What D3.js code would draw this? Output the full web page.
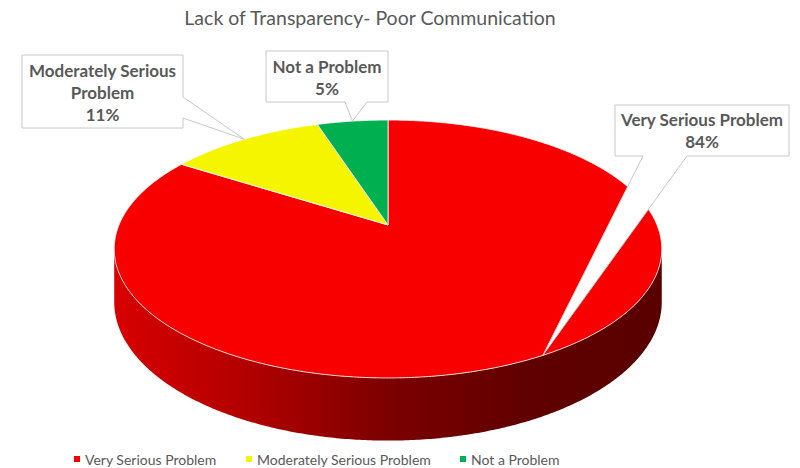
<!DOCTYPE html>
<html>
<head>
<meta charset="utf-8">
<script src="https://cdn.jsdelivr.net/npm/d3@7"></script>
<style>
  html, body { margin: 0; padding: 0; background: #ffffff; }
  svg { display: block; }
  text { font-family: Lato, "Open Sans", sans-serif; fill: #595959; }
</style>
</head>
<body>
<svg id="chart" width="800" height="468"></svg>
<script>
// ---- data ----
const title = "Lack of Transparency- Poor Communication";
const categories = ["Very Serious Problem", "Moderately Serious Problem", "Not a Problem"];
const values = [84, 11, 5];
const labelLines = [["Very Serious Problem"], ["Moderately Serious", "Problem"], ["Not a Problem"]];
const percentLabels = ["84%", "11%", "5%"];

// ---- styles / layout ----
const topColors = ["#f80000", "#f5f500", "#00b050"];
const color = d3.scaleOrdinal().domain(categories).range(topColors);

const W = 800, H = 468;
const cx = 388, cy = 225;        // projected centre of the pie top
const A = 269, B = 124.5;        // projected radii
const persp = 0.186;             // perspective factor
const depth = 51;                // thickness of the pie

function proj(theta) {
  const u = Math.sin(theta), v = Math.cos(theta);
  const w = 1 + persp * v;
  return [cx + A * u / w, cy - B * v / w];
}
function projBottom(theta) {
  const v = Math.cos(theta);
  const w = 1 + persp * v;
  const p = proj(theta);
  return [p[0], p[1] + depth / w];
}
function sample(a0, a1, fn) {
  const n = Math.max(2, Math.ceil(Math.abs(a1 - a0) / (Math.PI / 360)));
  const pts = [];
  for (let i = 0; i <= n; i++) pts.push(fn(a0 + (a1 - a0) * i / n));
  return pts;
}

const svg = d3.select("#chart");
const defs = svg.append("defs");
const grad = defs.append("linearGradient")
  .attr("id", "wallRed").attr("gradientUnits", "userSpaceOnUse")
  .attr("x1", 114).attr("x2", 662).attr("y1", 0).attr("y2", 0);
[["0%", "#d80000"], ["25%", "#b00000"], ["50%", "#7c0000"], ["75%", "#600000"], ["100%", "#5a0000"]]
  .forEach(s => grad.append("stop").attr("offset", s[0]).attr("stop-color", s[1]));

const pie = d3.pie().sort(null).value(d => d);
const arcs = pie(values);

// ---- wall (visible front part) ----
const thR = Math.acos(-persp), thL = 2 * Math.PI - thR;
const line = d3.line();
arcs.forEach((a, i) => {
  const s = Math.max(a.startAngle, thR), e = Math.min(a.endAngle, thL);
  if (e <= s) return;
  const top = sample(s, e, proj);
  const bot = sample(s, e, projBottom).reverse();
  svg.append("path")
    .attr("d", line(top.concat(bot)) + "Z")
    .attr("fill", i === 0 ? "url(#wallRed)" : d3.color(color(categories[i])).darker(1.2))
    .attr("stroke", "none");
});

// ---- top face slices ----
arcs.forEach((a, i) => {
  const pts = [[cx, cy]].concat(sample(a.startAngle, a.endAngle, proj));
  svg.append("path")
    .attr("d", line(pts) + "Z")
    .attr("fill", color(categories[i]))
    .attr("stroke", "#ffffff")
    .attr("stroke-width", 0.8)
    .attr("stroke-linejoin", "round");
});

// ---- callout labels ----
const boxes = [
  { x0: 615, y0: 105, x1: 789, y1: 156, side: "bottom", b1: 643, b2: 687, firstBase: 126, lh: 22 },
  { x0: 22, y0: 55, x1: 183, y1: 128, side: "right", b1: 97, b2: 118, firstBase: 77, lh: 22 },
  { x0: 266, y0: 51, x1: 388, y1: 102, side: "bottom", b1: 345, b2: 367, firstBase: 73, lh: 22 }
];
arcs.forEach((a, i) => {
  const bx = boxes[i];
  const tip = proj((a.startAngle + a.endAngle) / 2);
  let d;
  if (bx.side === "bottom") {
    d = `M${bx.x0},${bx.y0}H${bx.x1}V${bx.y1}H${bx.b2}L${tip[0]},${tip[1]}L${bx.b1},${bx.y1}H${bx.x0}Z`;
  } else {
    d = `M${bx.x0},${bx.y0}H${bx.x1}V${bx.b1}L${tip[0]},${tip[1]}L${bx.x1},${bx.b2}V${bx.y1}H${bx.x0}Z`;
  }
  svg.append("path").attr("d", d)
    .attr("fill", "#ffffff").attr("stroke", "#c8c8c8").attr("stroke-width", 1);
  const lines = labelLines[i].concat([percentLabels[i]]);
  const t = svg.append("text")
    .attr("text-anchor", "middle")
    .attr("font-weight", "bold")
    .attr("font-size", 17);
  lines.forEach((l, k) => {
    t.append("tspan").attr("x", (bx.x0 + bx.x1) / 2).attr("y", bx.firstBase + k * bx.lh).text(l);
  });
});

// ---- title ----
svg.append("text")
  .attr("x", 370).attr("y", 25)
  .attr("text-anchor", "middle")
  .attr("font-size", 19.5)
  .text(title);

// ---- legend ----
const legendX = [74, 246, 460];
const lg = svg.append("g");
categories.forEach((c, i) => {
  lg.append("rect").attr("x", legendX[i]).attr("y", 456).attr("width", 6).attr("height", 6)
    .attr("fill", color(c));
  lg.append("text").attr("x", legendX[i] + 11).attr("y", 465)
    .attr("font-size", 14).text(c);
});
</script>
</body>
</html>
